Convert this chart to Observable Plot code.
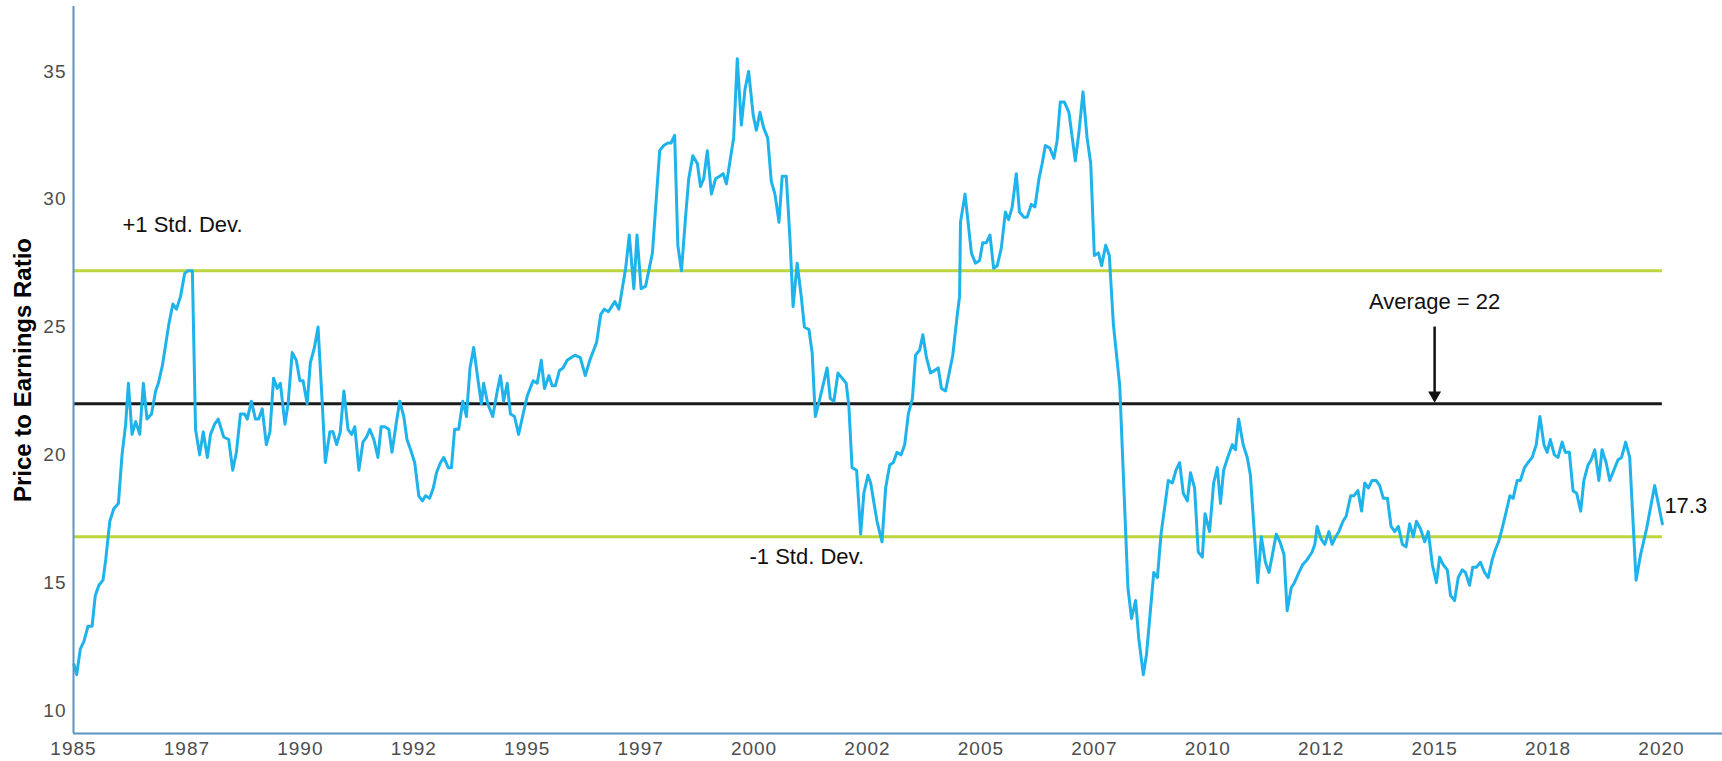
<!DOCTYPE html>
<html>
<head>
<meta charset="utf-8">
<script src="https://cdn.jsdelivr.net/npm/d3@7"></script>
<script src="https://cdn.jsdelivr.net/npm/@observablehq/plot@0.6"></script>
<style>
  html, body { margin: 0; padding: 0; background: #ffffff; }
  #chart svg { display: block; }
  #chart g[aria-label="x-axis tick label"] text,
  #chart g[aria-label="y-axis tick label"] text { letter-spacing: 1px; }
</style>
</head>
<body>
<div id="chart"></div>
<script>
// ---- Data ----
const peYears = [
  1985.01, 1985.07, 1985.15, 1985.23, 1985.32, 1985.41, 1985.48, 1985.56, 1985.65, 1985.71,
  1985.80, 1985.89, 1985.99, 1986.07, 1986.15, 1986.21, 1986.29, 1986.37, 1986.46, 1986.54,
  1986.62, 1986.72, 1986.81, 1986.87, 1986.96, 1987.10, 1987.19, 1987.27, 1987.36, 1987.45,
  1987.52, 1987.62, 1987.69, 1987.78, 1987.86, 1987.95, 1988.02, 1988.11, 1988.19, 1988.31,
  1988.42, 1988.51, 1988.59, 1988.68, 1988.77, 1988.83, 1988.92, 1989.01, 1989.08, 1989.16,
  1989.25, 1989.33, 1989.41, 1989.49, 1989.56, 1989.66, 1989.73, 1989.82, 1989.91, 1989.99,
  1990.06, 1990.15, 1990.22, 1990.31, 1990.39, 1990.48, 1990.55, 1990.65, 1990.72, 1990.80,
  1990.88, 1990.96, 1991.05, 1991.13, 1991.20, 1991.29, 1991.38, 1991.46, 1991.53, 1991.62,
  1991.71, 1991.78, 1991.86, 1991.95, 1992.02, 1992.11, 1992.19, 1992.28, 1992.35, 1992.43,
  1992.52, 1992.61, 1992.69, 1992.76, 1992.85, 1992.93, 1993.00, 1993.09, 1993.16, 1993.26,
  1993.33, 1993.40, 1993.49, 1993.58, 1993.66, 1993.74, 1993.82, 1993.91, 1993.99,
  1994.04, 1994.13, 1994.24, 1994.34, 1994.41, 1994.48, 1994.56, 1994.63, 1994.72, 1994.81,
  1994.91, 1995.00, 1995.13, 1995.22, 1995.31, 1995.38, 1995.48, 1995.55, 1995.62, 1995.71,
  1995.79, 1995.88, 1996.05, 1996.17, 1996.28, 1996.38, 1996.53, 1996.62, 1996.70, 1996.79,
  1996.86, 1996.93, 1997.02, 1997.17, 1997.25, 1997.35, 1997.42, 1997.51, 1997.61, 1997.76,
  1997.92, 1998.01, 1998.10, 1998.17, 1998.25, 1998.32, 1998.40, 1998.49, 1998.56, 1998.65,
  1998.75, 1998.82, 1998.89, 1998.97, 1999.06, 1999.15, 1999.24, 1999.32, 1999.39, 1999.55,
  1999.63, 1999.72, 1999.80, 1999.88, 1999.98, 2000.05, 2000.13, 2000.21, 2000.30, 2000.38,
  2000.46, 2000.55, 2000.62, 2000.71, 2000.79, 2000.86, 2000.95, 2001.04, 2001.11, 2001.21,
  2001.28, 2001.35, 2001.45, 2001.61, 2001.68, 2001.76, 2001.85, 2001.94, 2002.03, 2002.09,
  2002.16, 2002.26, 2002.35, 2002.42, 2002.51,
  2002.57, 2002.71, 2002.82, 2002.90, 2002.99, 2003.07, 2003.15, 2003.24, 2003.32, 2003.40,
  2003.49, 2003.56, 2003.65, 2003.72, 2003.80, 2003.89, 2004.06, 2004.13, 2004.22, 2004.38,
  2004.48, 2004.53, 2004.55, 2004.65, 2004.79, 2004.88, 2004.97, 2005.04, 2005.12, 2005.20,
  2005.28, 2005.36, 2005.45, 2005.54, 2005.61, 2005.69, 2005.78, 2005.85, 2005.95, 2006.02,
  2006.11, 2006.19, 2006.28, 2006.35, 2006.42, 2006.52, 2006.61, 2006.68, 2006.75, 2006.84,
  2006.94, 2007.08, 2007.16, 2007.25, 2007.34, 2007.42, 2007.50, 2007.59, 2007.66, 2007.75,
  2007.83, 2007.92, 2008.06, 2008.24, 2008.32, 2008.41, 2008.48, 2008.58, 2008.65, 2008.81,
  2008.89, 2008.97, 2009.13, 2009.22, 2009.30, 2009.38, 2009.46, 2009.55, 2009.62, 2009.71,
  2009.79, 2009.88, 2009.94, 2010.04, 2010.13, 2010.21, 2010.28, 2010.35, 2010.44, 2010.54,
  2010.61, 2010.68, 2010.78, 2010.87, 2010.94, 2011.10, 2011.18, 2011.27, 2011.35, 2011.51,
  2011.59,
  2011.68, 2011.75, 2011.84, 2011.91, 2012.01, 2012.09, 2012.19, 2012.30, 2012.36, 2012.41,
  2012.50, 2012.58, 2012.67, 2012.74, 2012.82, 2012.89, 2012.98, 2013.05, 2013.15, 2013.22,
  2013.31, 2013.39, 2013.46, 2013.54, 2013.62, 2013.71, 2013.79, 2013.87, 2013.96, 2014.04,
  2014.12, 2014.20, 2014.29, 2014.37, 2014.45, 2014.53, 2014.60, 2014.69, 2014.78, 2014.86,
  2014.95, 2015.04, 2015.11, 2015.19, 2015.28, 2015.35, 2015.44, 2015.52, 2015.61, 2015.68,
  2015.77, 2015.84, 2015.92, 2016.01, 2016.10, 2016.18, 2016.27, 2016.34, 2016.41, 2016.50,
  2016.58, 2016.66, 2016.73, 2016.82, 2016.89, 2016.98, 2017.06, 2017.15, 2017.24, 2017.32,
  2017.41, 2017.48, 2017.55, 2017.64, 2017.72, 2017.81, 2017.88, 2017.97, 2018.05, 2018.13,
  2018.22, 2018.29, 2018.38, 2018.45, 2018.53, 2018.62, 2018.69, 2018.78, 2018.86, 2018.95,
  2019.04, 2019.12, 2019.21, 2019.30, 2019.44, 2019.54, 2019.67, 2019.85, 2020.02
];

const peValues = [
  11.8, 11.4, 12.4, 12.7, 13.3, 13.3, 14.5, 14.9, 15.1, 15.9,
  17.4, 17.9, 18.1, 20.0, 21.2, 22.8, 20.8, 21.3, 20.8, 22.8,
  21.4, 21.6, 22.5, 22.8, 23.5, 25.1, 25.9, 25.7, 26.2, 27.1,
  27.2, 27.2, 21.0, 20.0, 20.9, 19.9, 20.8, 21.2, 21.4, 20.7,
  20.6, 19.4, 20.1, 21.6, 21.6, 21.4, 22.1, 21.4, 21.4, 21.8,
  20.4, 20.9, 23.0, 22.6, 22.8, 21.2, 22.0, 24.0, 23.7, 22.9,
  22.9, 22.0, 23.6, 24.2, 25.0, 22.1, 19.7, 20.9, 20.9, 20.4,
  20.9, 22.5, 21.0, 20.8, 21.1, 19.4, 20.5, 20.7, 21.0, 20.6,
  19.9, 21.1, 21.1, 21.0, 20.1, 21.2, 22.1, 21.5, 20.6, 20.2,
  19.7, 18.4, 18.2, 18.4, 18.3, 18.7, 19.3, 19.7, 19.9, 19.5,
  19.5, 21.0, 21.0, 22.1, 21.5, 23.4, 24.2, 23.0, 22.0,
  22.8, 22.0, 21.5, 22.5, 23.1, 22.1, 22.8, 21.6, 21.5, 20.8,
  21.6, 22.3, 22.9, 22.8, 23.7, 22.6, 23.1, 22.7, 22.7, 23.3,
  23.4, 23.7, 23.9, 23.8, 23.1, 23.7, 24.4, 25.5, 25.7, 25.6,
  25.8, 26.0, 25.7, 27.3, 28.6, 26.5, 28.6, 26.5, 26.6, 27.9,
  31.9, 32.1, 32.2, 32.2, 32.5, 28.2, 27.2, 29.3, 30.8, 31.7,
  31.4, 30.5, 30.8, 31.9, 30.2, 30.8, 30.9, 31.0, 30.6, 32.4,
  35.5, 32.9, 34.3, 35.0, 33.3, 32.7, 33.4, 32.8, 32.4, 30.7,
  30.2, 29.1, 30.9, 30.9, 28.5, 25.8, 27.5, 26.2, 25.0, 24.9,
  24.0, 21.5, 22.2, 23.4, 22.2, 22.1, 23.2, 23.0, 22.8, 21.9,
  19.5, 19.4, 16.9, 18.5, 19.2,
  18.9, 17.4, 16.6, 18.7, 19.6, 19.7, 20.1, 20.0, 20.4, 21.6,
  22.2, 23.9, 24.1, 24.7, 23.8, 23.2, 23.4, 22.6, 22.5, 23.9,
  25.5, 26.2, 29.1, 30.2, 27.9, 27.5, 27.6, 28.3, 28.3, 28.6,
  27.3, 27.4, 28.1, 29.5, 29.2, 29.7, 31.0, 29.5, 29.3, 29.3,
  29.8, 29.7, 30.8, 31.4, 32.1, 32.0, 31.6, 32.3, 33.8, 33.8,
  33.4, 31.5, 32.6, 34.2, 32.4, 31.4, 27.8, 27.9, 27.4, 28.2,
  27.8, 25.1, 22.7, 14.8, 13.6, 14.3, 12.8, 11.4, 12.2, 15.4,
  15.2, 16.9, 19.0, 18.9, 19.4, 19.7, 18.5, 18.2, 19.3, 18.7,
  16.2, 16.0, 17.7, 17.0, 18.9, 19.5, 18.1, 19.4, 19.9, 20.4,
  20.2, 21.4, 20.4, 19.9, 19.2, 15.0, 16.8, 15.8, 15.4, 16.9,
  16.6,
  16.1, 13.9, 14.8, 15.0, 15.4, 15.7, 15.9, 16.2, 16.5, 17.2,
  16.7, 16.5, 17.0, 16.5, 16.8, 17.0, 17.4, 17.6, 18.4, 18.4,
  18.6, 17.8, 18.9, 18.7, 19.0, 19.0, 18.8, 18.3, 18.3, 17.2,
  17.0, 17.2, 16.5, 16.4, 17.3, 16.8, 17.4, 17.1, 16.6, 17.0,
  15.7, 15.0, 16.0, 15.7, 15.5, 14.5, 14.3, 15.2, 15.5, 15.4,
  14.9, 15.6, 15.6, 15.8, 15.4, 15.2, 15.9, 16.3, 16.6, 17.2,
  17.8, 18.4, 18.3, 19.0, 19.0, 19.5, 19.7, 19.9, 20.4, 21.5,
  20.4, 20.1, 20.6, 20.0, 19.9, 20.5, 20.1, 20.1, 18.6, 18.5,
  17.8, 19.0, 19.6, 19.8, 20.2, 19.0, 20.2, 19.7, 19.0, 19.4,
  19.8, 19.9, 20.5, 19.9, 15.1, 16.1, 17.1, 18.8, 17.3
];

const xTickYears  = [1985, 1987.5, 1990, 1992.5, 1995, 1997.5, 2000, 2002.5, 2005, 2007.5, 2010, 2012.5, 2015, 2017.5, 2020];
const xTickLabels = ["1985", "1987", "1990", "1992", "1995", "1997", "2000", "2002", "2005", "2007", "2010", "2012", "2015", "2018", "2020"];
const yTicks = [10, 15, 20, 25, 30, 35];

const averagePE = 22;
const plusOneSD = 27.2;
const minusOneSD = 16.8;

const yAxisTitle = "Price to Earnings Ratio";
const plusLabel = "+1 Std. Dev.";
const minusLabel = "-1 Std. Dev.";
const averageLabel = "Average = 22";

// ---- Build table ----
const n = Math.min(peYears.length, peValues.length);
const series = d3.range(n).map(i => ({year: peYears[i], pe: peValues[i]}));
const startYear = peYears[0];
const endYear = peYears[n - 1];
const lastValue = peValues[n - 1];

const lineBlue = "#1eb3ea";
const bandGreen = "#bdd63f";
const axisBlue = "#5b93bf";
const ink = "#111111";

// Downward-pointing filled triangle whose tip sits on the anchor point
const triangleDown = {
  draw(context, size) {
    const s = Math.sqrt(size / 0.4330127);
    const h = s * 0.8660254;
    context.moveTo(-s / 2, -h);
    context.lineTo(s / 2, -h);
    context.lineTo(0, 0);
    context.closePath();
  }
};

const annotationFont = "Liberation Sans, Arial, Helvetica, sans-serif";

const chart = Plot.plot({
  width: 1722,
  height: 761,
  marginLeft: 73,
  marginRight: 0,
  marginTop: 6,
  marginBottom: 28,
  style: {fontFamily: annotationFont, fontSize: "19px", color: "#4d4d4d", background: "#ffffff", overflow: "visible"},
  x: {domain: [1985, 2021.345], label: null},
  y: {domain: [9.1, 37.54], label: null},
  marks: [
    Plot.axisX({ticks: xTickYears, tickFormat: d => xTickLabels[xTickYears.indexOf(d)], tickSize: 0, tickPadding: 8, label: null, fontSize: 19}),
    Plot.axisY({ticks: yTicks, tickSize: 0, tickPadding: 7, label: null, fontSize: 19}),
    Plot.ruleY([plusOneSD, minusOneSD], {y: d => d, x1: () => startYear, x2: () => endYear, stroke: bandGreen, strokeWidth: 3}),
    Plot.ruleY([averagePE], {y: d => d, x1: () => startYear, x2: () => endYear, stroke: "#1a1a1a", strokeWidth: 3}),
    Plot.line(series, {x: "year", y: "pe", stroke: lineBlue, strokeWidth: 3, strokeLinejoin: "round"}),
    Plot.ruleX([1985], {stroke: axisBlue, strokeWidth: 2}),
    Plot.ruleY([9.1], {stroke: axisBlue, strokeWidth: 2}),
    // Average arrow
    Plot.ruleX([2015], {x: d => d, y1: () => averagePE + 0.4, y2: () => 25.0, stroke: ink, strokeWidth: 2.5}),
    Plot.dot([2015], {x: d => d, y: () => averagePE, symbol: triangleDown, r: 4.8, fill: ink, stroke: "none", dy: -1}),
    // Annotations
    Plot.text([plusLabel], {x: () => 1986.08, y: () => 29.0, text: d => d, textAnchor: "start", lineAnchor: "middle", fontSize: 22, fontFamily: annotationFont, fill: ink}),
    Plot.text([minusLabel], {x: () => 1999.9, y: () => 16.0, text: d => d, textAnchor: "start", lineAnchor: "middle", fontSize: 22, fontFamily: annotationFont, fill: ink}),
    Plot.text([averageLabel], {x: () => 2015, y: () => 26.0, text: d => d, textAnchor: "middle", lineAnchor: "middle", fontSize: 22, fontFamily: annotationFont, fill: ink}),
    Plot.text([lastValue], {x: () => endYear, y: () => 18.0, text: d => d.toFixed(1), textAnchor: "start", lineAnchor: "middle", dx: 2, fontSize: 22, fontFamily: annotationFont, fill: ink}),
    // Y axis title
    Plot.text([yAxisTitle], {frameAnchor: "left", text: d => d, rotate: -90, textAnchor: "middle", lineAnchor: "middle", dx: -50, fontSize: 24, fontWeight: "bold", fontFamily: annotationFont, fill: "#000000"})
  ]
});

document.getElementById("chart").appendChild(chart);
</script>
</body>
</html>
